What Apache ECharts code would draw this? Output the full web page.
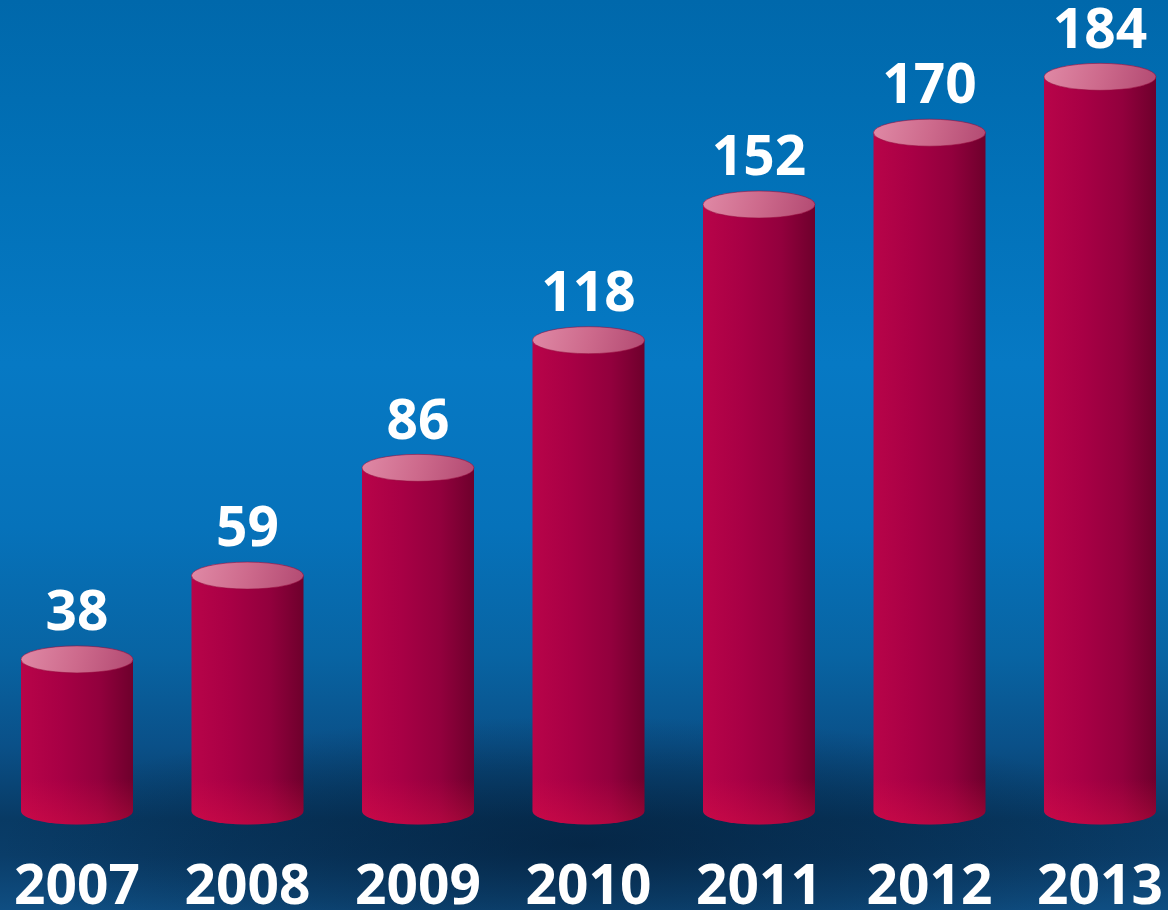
<!DOCTYPE html>
<html>
<head>
<meta charset="utf-8">
<title>2007–2013</title>
<script src="https://cdn.jsdelivr.net/npm/echarts@6/dist/echarts.min.js"></script>
<style>
  html, body { margin: 0; padding: 0; background: #0670b8; }
  #chart { width: 1168px; height: 910px; }
</style>
</head>
<body>
<div id="chart"></div>
<script>
// Yearly totals shown as cylinders
const years = ['2007', '2008', '2009', '2010', '2011', '2012', '2013'];
const totals = [38, 59, 86, 118, 152, 170, 184];
const yMax = 200;

const BAR_W = 112;   // cylinder diameter in px
const CAP_RY = 13.5; // vertical radius of the elliptical caps

const FONT = '"Open Sans", "Noto Sans", sans-serif';

function renderCylinder(params, api) {
  const idx = api.value(0);
  const val = api.value(1);
  const top = api.coord([idx, val]);
  const base = api.coord([idx, 0]);
  const cx = top[0];
  const rx = BAR_W / 2;
  const ry = CAP_RY;
  const yt = top[1];
  const yb = base[1];
  const h = yb - yt + ry;

  const bodyPath =
    'M' + (cx - rx) + ' ' + yt +
    ' L' + (cx - rx) + ' ' + yb +
    ' A' + rx + ' ' + ry + ' 0 0 0 ' + (cx + rx) + ' ' + yb +
    ' L' + (cx + rx) + ' ' + yt + ' Z';

  const capPath =
    'M' + (cx - rx) + ' ' + yt +
    ' A' + rx + ' ' + ry + ' 0 1 0 ' + (cx + rx) + ' ' + yt +
    ' A' + rx + ' ' + ry + ' 0 1 0 ' + (cx - rx) + ' ' + yt + ' Z';

  const glowStart = Math.max(0, 1 - 46 / h);

  return {
    type: 'group',
    children: [
      {
        type: 'path',
        shape: { pathData: bodyPath },
        style: {
          fill: new echarts.graphic.LinearGradient(0, 0, 1, 0, [
            { offset: 0, color: '#b80449' },
            { offset: 0.35, color: '#a80045' },
            { offset: 0.7, color: '#92003d' },
            { offset: 1, color: '#6e002c' }
          ])
        }
      },
      {
        // warm reflection near the base
        type: 'path',
        shape: { pathData: bodyPath },
        style: {
          fill: new echarts.graphic.LinearGradient(0, 0, 0, 1, [
            { offset: 0, color: 'rgba(235,20,70,0)' },
            { offset: glowStart, color: 'rgba(235,20,70,0)' },
            { offset: 1, color: 'rgba(235,20,70,0.35)' }
          ])
        }
      },
      {
        type: 'path',
        shape: { pathData: capPath },
        style: {
          fill: new echarts.graphic.LinearGradient(0, 0, 1, 1, [
            { offset: 0, color: '#e08aa6' },
            { offset: 0.5, color: '#cd6a8c' },
            { offset: 1, color: '#b24a72' }
          ]),
          stroke: 'rgba(150,10,60,0.55)',
          lineWidth: 1
        }
      },
      {
        type: 'text',
        style: {
          text: String(val),
          x: cx,
          y: yt - 45,
          align: 'center',
          verticalAlign: 'middle',
          textAlign: 'center',
          textVerticalAlign: 'middle',
          fill: '#ffffff',
          fontSize: 55,
          fontWeight: 'bold',
          fontFamily: FONT
        }
      }
    ]
  };
}

const chart = echarts.init(document.getElementById('chart'), null, { renderer: 'canvas' });

chart.setOption({
  animation: false,
  backgroundColor: {
    type: 'linear', x: 0, y: 0, x2: 0, y2: 1,
    colorStops: [
      { offset: 0.00, color: '#0068ab' },
      { offset: 0.22, color: '#0272b9' },
      { offset: 0.40, color: '#0679c4' },
      { offset: 0.58, color: '#0672ba' },
      { offset: 0.72, color: '#0864a3' },
      { offset: 0.82, color: '#0a5088' },
      { offset: 0.90, color: '#083a64' },
      { offset: 0.94, color: '#0a3d69' },
      { offset: 1.00, color: '#0f4e82' }
    ]
  },
  graphic: [
    {
      // soft dark pool beneath the cylinders
      type: 'rect',
      z: -10,
      silent: true,
      x: 0,
      y: 845 - 1168 * 0.11,
      scaleY: 0.22,
      shape: { x: 0, y: 0, width: 1168, height: 1168 },
      style: {
        fill: new echarts.graphic.RadialGradient(0.5, 0.5, 0.5, [
          { offset: 0, color: 'rgba(2,22,45,0.55)' },
          { offset: 0.6, color: 'rgba(2,22,45,0.25)' },
          { offset: 1, color: 'rgba(2,22,45,0)' }
        ])
      }
    }
  ],
  grid: {
    left: 77, right: 68, top: 13, bottom: 99,
    containLabel: false,
    outerBoundsMode: 'none'
  },
  xAxis: {
    type: 'category',
    data: years,
    boundaryGap: false,
    axisLine: { show: false },
    axisTick: { show: false },
    splitLine: { show: false },
    axisLabel: {
      color: '#ffffff',
      fontSize: 55,
      fontWeight: 'bold',
      fontFamily: FONT,
      lineHeight: 55,
      margin: 50,
      verticalAlign: 'top'
    }
  },
  yAxis: {
    type: 'value',
    min: 0,
    max: yMax,
    show: false,
    splitLine: { show: false }
  },
  series: [
    {
      type: 'custom',
      renderItem: renderCylinder,
      data: totals.map(function (v, i) { return [i, v]; }),
      encode: { x: 0, y: 1 },
      clip: false,
      z: 5
    }
  ]
});
</script>
</body>
</html>
